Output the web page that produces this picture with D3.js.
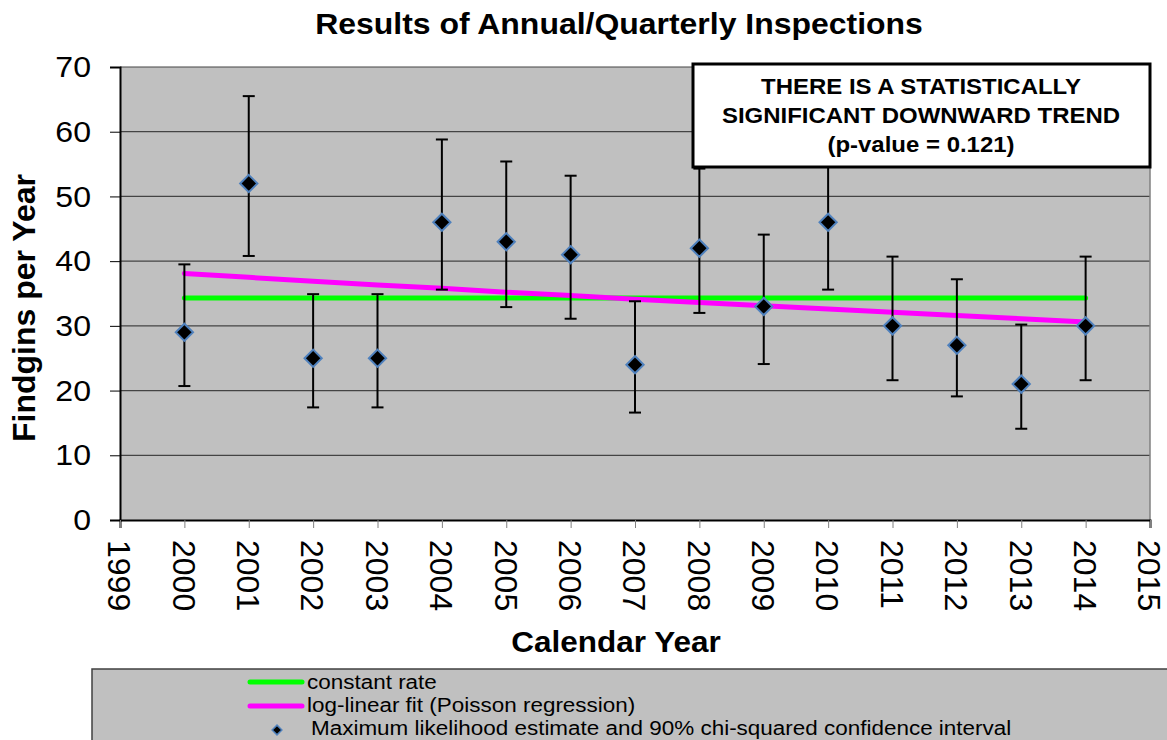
<!DOCTYPE html>
<html>
<head>
<meta charset="utf-8">
<script src="https://cdn.jsdelivr.net/npm/d3@7"></script>
<style>
  html, body { margin: 0; padding: 0; background: #fff; }
  svg { display: block; font-family: "Liberation Sans", Arial, sans-serif; }
</style>
</head>
<body>
<svg id="chart" width="1167" height="740"></svg>
<script>
// ---- data ----
const years = [2000, 2001, 2002, 2003, 2004, 2005, 2006, 2007, 2008, 2009, 2010, 2011, 2012, 2013, 2014];
const findings = [29, 52, 25, 25, 46, 43, 41, 24, 42, 33, 46, 30, 27, 21, 30];
const ciLower = [20.7, 40.8, 17.4, 17.4, 35.6, 32.9, 31.1, 16.6, 32.0, 24.1, 35.6, 21.6, 19.1, 14.1, 21.6];
const ciUpper = [39.5, 65.5, 34.9, 34.9, 58.8, 55.4, 53.2, 33.8, 54.3, 44.1, 58.8, 40.7, 37.2, 30.2, 40.7];
const constantRate = [34.3, 34.3, 34.3, 34.3, 34.3, 34.3, 34.3, 34.3, 34.3, 34.3, 34.3, 34.3, 34.3, 34.3, 34.3];
const logLinearFit = [38.1, 37.5, 36.9, 36.3, 35.8, 35.2, 34.7, 34.1, 33.6, 33.1, 32.6, 32.1, 31.6, 31.1, 30.6];
const xTicks = [1999, 2000, 2001, 2002, 2003, 2004, 2005, 2006, 2007, 2008, 2009, 2010, 2011, 2012, 2013, 2014, 2015];
const yTicks = [0, 10, 20, 30, 40, 50, 60, 70];
const legendLabels = ["constant rate", "log-linear fit (Poisson regression)", "Maximum likelihood estimate and 90% chi-squared confidence interval"];
const titleText = "Results of Annual/Quarterly Inspections";
const xTitle = "Calendar Year";
const yTitle = "Findgins per Year";
const noteLines = ["THERE IS A STATISTICALLY", "SIGNIFICANT DOWNWARD TREND", "(p-value = 0.121)"];

// ---- layout ----
const svg = d3.select("#chart");
const L = 120, R = 1150, T = 67, B = 520;
const x = d3.scaleLinear().domain([1999, 2015]).range([L, R]);
const y = d3.scaleLinear().domain([0, 70]).range([B, T]);

// plot background
svg.append("rect").attr("x", L).attr("y", T).attr("width", R - L).attr("height", B - T).attr("fill", "#c0c0c0");

// gridlines
svg.append("g").selectAll("line").data(yTicks.filter(d => d > 0)).join("line")
  .attr("x1", L).attr("x2", R).attr("y1", d => y(d)).attr("y2", d => y(d))
  .attr("stroke", "#444").attr("stroke-width", 1.2);

// right border
svg.append("line").attr("x1", R).attr("x2", R).attr("y1", T).attr("y2", B).attr("stroke", "#808080").attr("stroke-width", 1.5);

// y axis
const yAxis = svg.append("g").attr("transform", `translate(${L},0)`)
  .call(d3.axisLeft(y).tickValues(yTicks).tickSize(10).tickFormat(d3.format("d")));
yAxis.select(".domain").attr("stroke", "#000").attr("stroke-width", 2);
yAxis.selectAll(".tick line").attr("stroke", "#000").attr("stroke-width", 1);
yAxis.selectAll(".tick text")
  .attr("font-size", 30).attr("fill", "#000").attr("font-family", "Liberation Sans, Arial, sans-serif")
  .attr("x", 0).attr("text-anchor", "end")
  .attr("transform", "translate(-29,0) scale(1.07,1)");

// x axis
const xAxis = svg.append("g").attr("transform", `translate(0,${B})`)
  .call(d3.axisBottom(x).tickValues(xTicks).tickSize(8).tickFormat(d3.format("d")));
xAxis.select(".domain").attr("stroke", "#000").attr("stroke-width", 2);
xAxis.selectAll(".tick line").attr("stroke", "#808080").attr("stroke-width", 1);
xAxis.selectAll(".tick text")
  .attr("font-size", 32).attr("fill", "#000").attr("font-family", "Liberation Sans, Arial, sans-serif")
  .attr("text-anchor", "start")
  .attr("transform", "translate(0,20) rotate(90)")
  .attr("y", 0).attr("x", 0).attr("dy", "0.38em");

// fitted lines
const lineGen = d3.line().x((d, i) => x(years[i])).y(d => y(d));
svg.append("path").datum(constantRate).attr("d", lineGen)
  .attr("fill", "none").attr("stroke", "#00ff00").attr("stroke-width", 5).attr("stroke-linecap", "round");
svg.append("path").datum(logLinearFit).attr("d", lineGen)
  .attr("fill", "none").attr("stroke", "#ff00ff").attr("stroke-width", 5).attr("stroke-linecap", "round");

// error bars
const eb = svg.append("g").attr("stroke", "#000").attr("stroke-width", 2);
years.forEach((yr, i) => {
  const cx = x(yr);
  eb.append("line").attr("x1", cx).attr("x2", cx).attr("y1", y(ciLower[i])).attr("y2", y(ciUpper[i]));
  eb.append("line").attr("x1", cx - 6).attr("x2", cx + 6).attr("y1", y(ciLower[i])).attr("y2", y(ciLower[i]));
  eb.append("line").attr("x1", cx - 6).attr("x2", cx + 6).attr("y1", y(ciUpper[i])).attr("y2", y(ciUpper[i]));
});

// diamonds
const diamond = d3.symbol().type(d3.symbolDiamond2).size(190);
svg.append("g").selectAll("path").data(findings).join("path")
  .attr("d", diamond)
  .attr("transform", (d, i) => `translate(${x(years[i])},${y(d)})`)
  .attr("fill", "#000").attr("stroke", "#4f81bd").attr("stroke-width", 2);

// annotation box
svg.append("rect").attr("x", 693).attr("y", 64).attr("width", 457).attr("height", 103)
  .attr("fill", "#fff").attr("stroke", "#000").attr("stroke-width", 3);
svg.append("g").selectAll("text").data(noteLines).join("text")
  .attr("transform", (d, i) => `translate(921,${94 + i * 29}) scale(1.09,1)`)
  .attr("text-anchor", "middle").attr("font-size", 22).attr("font-weight", "bold").attr("fill", "#000")
  .text(d => d);

// titles
svg.append("text").attr("transform", "translate(619,34) scale(1.065,1)").attr("text-anchor", "middle")
  .attr("font-size", 30).attr("font-weight", "bold").text(titleText);
svg.append("text").attr("transform", "translate(616,652) scale(1.05,1)").attr("text-anchor", "middle")
  .attr("font-size", 30).attr("font-weight", "bold").text(xTitle);
svg.append("text").attr("transform", "translate(35,308) rotate(-90)").attr("text-anchor", "middle")
  .attr("font-size", 32).attr("font-weight", "bold").text(yTitle);

// legend
svg.append("rect").attr("x", 92).attr("y", 669).attr("width", 1100).attr("height", 100)
  .attr("fill", "#c0c0c0").attr("stroke", "#404040").attr("stroke-width", 1.5);
const lg = svg.append("g");
lg.append("line").attr("x1", 250).attr("x2", 302).attr("y1", 682).attr("y2", 682)
  .attr("stroke", "#00ff00").attr("stroke-width", 5).attr("stroke-linecap", "round");
lg.append("line").attr("x1", 250).attr("x2", 302).attr("y1", 706).attr("y2", 706)
  .attr("stroke", "#ff00ff").attr("stroke-width", 5).attr("stroke-linecap", "round");
lg.append("path").attr("d", d3.symbol().type(d3.symbolDiamond2).size(60)).attr("transform", "translate(277,730)")
  .attr("fill", "#000").attr("stroke", "#4f81bd").attr("stroke-width", 1.5);
lg.selectAll("text").data(legendLabels).join("text")
  .attr("transform", (d, i) => `translate(${i === 2 ? 311 : 307},${689 + i * 23}) scale(1.07,1)`)
  .attr("font-size", 21).attr("fill", "#000").text(d => d);
</script>
</body>
</html>
